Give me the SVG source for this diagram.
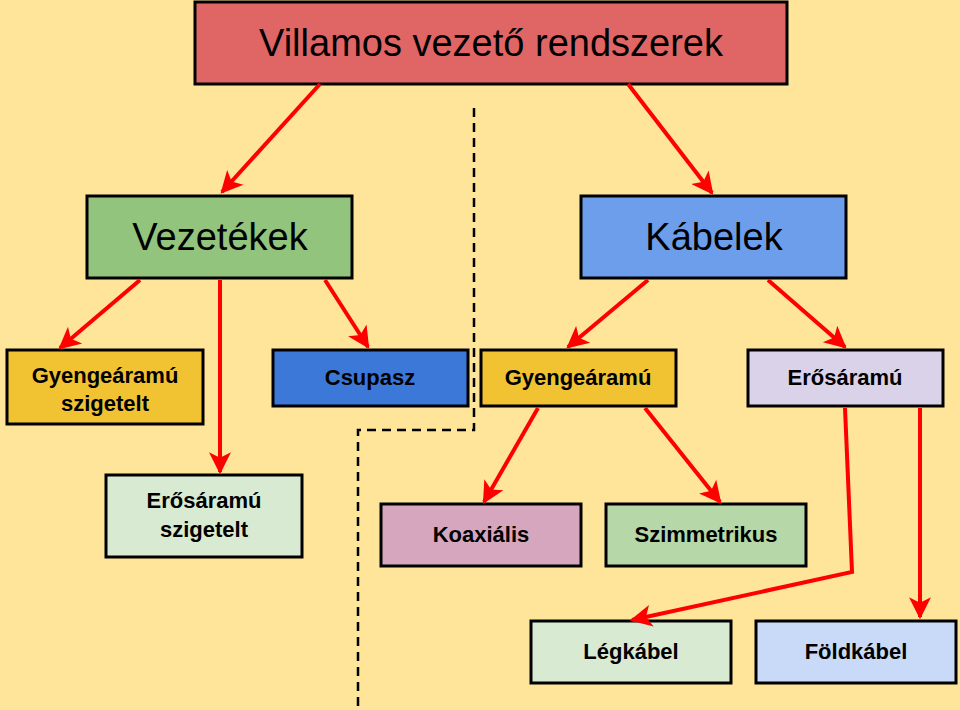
<svg xmlns="http://www.w3.org/2000/svg" width="960" height="710" viewBox="0 0 960 710">
<defs>
<marker id="ah" viewBox="0 0 10 10" refX="9" refY="5" markerWidth="6" markerHeight="5.5" orient="auto" markerUnits="strokeWidth">
<path d="M0,0 L10,5 L0,10 L2.5,5 Z" fill="#ff0000"/>
</marker>
</defs>
<style>
.b{stroke:#000;stroke-width:3}
.t{font-family:"Liberation Sans",Arial,sans-serif;text-anchor:middle;fill:#000}
.big{font-size:38px}
.s{font-size:22px;font-weight:bold}
.c path{fill:none;stroke:#ff0000;stroke-width:4;marker-end:url(#ah)}
</style>
<rect width="960" height="710" fill="#ffe599"/>
<path d="M474,108 V430 H358 V710" fill="none" stroke="#000" stroke-width="2.5" stroke-dasharray="9,6"/>
<g id="n-title"><rect class="b" x="195" y="2" width="592" height="82" fill="#e06666"/><text class="t big" x="491" y="56">Villamos vezető rendszerek</text></g>
<g id="n-vezetekek"><rect class="b" x="87" y="196" width="265" height="82" fill="#93c47d"/><text class="t big" x="220" y="250">Vezetékek</text></g>
<g id="n-kabelek"><rect class="b" x="581" y="196" width="265" height="82" fill="#6d9eeb"/><text class="t big" x="714" y="250">Kábelek</text></g>
<g id="n-gyszig"><rect class="b" x="7" y="350" width="196" height="74" fill="#f1c232"/><text class="t s" x="105" y="383">Gyengeáramú</text><text class="t s" x="105" y="411">szigetelt</text></g>
<g id="n-csupasz"><rect class="b" x="273" y="350" width="195" height="56" fill="#3c78d8"/><text class="t s" x="370" y="385">Csupasz</text></g>
<g id="n-gy"><rect class="b" x="481" y="350" width="195" height="56" fill="#f1c232"/><text class="t s" x="578" y="385">Gyengeáramú</text></g>
<g id="n-er"><rect class="b" x="748" y="350" width="195" height="56" fill="#d9d2e9"/><text class="t s" x="845" y="385">Erősáramú</text></g>
<g id="n-erszig"><rect class="b" x="106" y="475" width="196" height="82" fill="#d9ead3"/><text class="t s" x="204" y="508">Erősáramú</text><text class="t s" x="204" y="537">szigetelt</text></g>
<g id="n-koax"><rect class="b" x="381" y="504" width="200" height="62" fill="#d5a6bd"/><text class="t s" x="481" y="542">Koaxiális</text></g>
<g id="n-szimm"><rect class="b" x="606" y="504" width="200" height="62" fill="#b6d7a8"/><text class="t s" x="706" y="542">Szimmetrikus</text></g>
<g id="n-leg"><rect class="b" x="531" y="621" width="200" height="62" fill="#d9ead3"/><text class="t s" x="631" y="659">Légkábel</text></g>
<g id="n-fold"><rect class="b" x="756" y="621" width="200" height="62" fill="#c9daf8"/><text class="t s" x="856" y="659">Földkábel</text></g>
<g id="connectors" class="c">
<path d="M320,84 L222,192"/>
<path d="M628,84 L712,193"/>
<path d="M140,280 L60,348"/>
<path d="M220,280 L220,472"/>
<path d="M325,280 L368,347"/>
<path d="M648,280 L568,347"/>
<path d="M768,280 L845,347"/>
<path d="M538,408 L484,502"/>
<path d="M645,408 L720,502"/>
<path d="M845,408 L852,572 L632,620"/>
<path d="M920,408 L920,617"/>
</g>
</svg>
